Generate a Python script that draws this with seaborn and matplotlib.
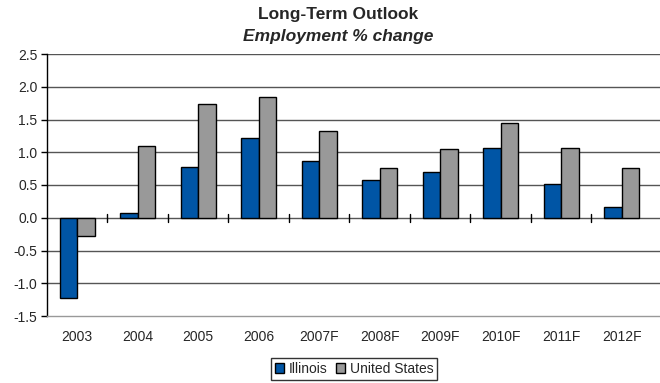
import matplotlib
matplotlib.use("Agg")
import matplotlib.pyplot as plt
import seaborn as sns
import pandas as pd
from matplotlib.patches import Patch

years = ["2003", "2004", "2005", "2006", "2007F", "2008F", "2009F", "2010F", "2011F", "2012F"]
illinois = [-1.23, 0.08, 0.78, 1.21, 0.86, 0.57, 0.70, 1.07, 0.51, 0.17]
united_states = [-0.28, 1.10, 1.73, 1.85, 1.32, 0.76, 1.05, 1.44, 1.07, 0.76]
series_names = ["Illinois", "United States"]
yticks = [-1.5, -1.0, -0.5, 0.0, 0.5, 1.0, 1.5, 2.0, 2.5]

df = pd.DataFrame({
    "year": years * 2,
    "value": illinois + united_states,
    "series": [series_names[0]] * len(years) + [series_names[1]] * len(years),
})

sns.set_style("white")
plt.rcParams["font.family"] = ["Liberation Sans", "DejaVu Sans"]

colors = {"Illinois": "#0055A5", "United States": "#999999"}

fig = plt.figure(figsize=(6.6, 3.83), dpi=100)
ax = fig.add_axes([47 / 660, 1 - 316 / 383, 613 / 660, (316 - 54) / 383])

# horizontal grid drawn under the bars
for y in yticks[1:]:
    ax.axhline(y, color="#555555", lw=1.0, zorder=0)

sns.barplot(data=df, x="year", y="value", hue="series", palette=colors,
            saturation=1, width=0.58, edgecolor="black", linewidth=1.0, ax=ax,
            legend=False, zorder=2)

ax.set_ylim(-1.5, 2.5)
ax.set_xlim(-0.5, len(years) - 0.5 + (660 - 652) / 60.4)
ax.set_yticks(yticks)
ax.set_yticklabels([f"{v:.1f}" for v in yticks])
ax.set_xlabel("")
ax.set_ylabel("")

for side in ["top", "right"]:
    ax.spines[side].set_visible(False)
ax.spines["left"].set_color("black")
ax.spines["left"].set_linewidth(1.0)
ax.spines["bottom"].set_color("#999999")
ax.spines["bottom"].set_linewidth(1.0)

ax.tick_params(axis="y", direction="out", length=4, width=1, color="black",
               labelsize=10, pad=3, left=True)
ax.tick_params(axis="x", length=0, labelsize=10, pad=10)

# category separators on the zero line
for i in range(len(years) - 1):
    ax.plot([i + 0.5, i + 0.5], [-0.06, 0.06], color="black", lw=1.0, zorder=3)

fig.text(338 / 660, 1 - 14 / 383, "Long-Term Outlook", ha="center", va="center",
         fontsize=12.5, fontweight="bold")
fig.text(338 / 660, 1 - 36 / 383, "Employment % change", ha="center", va="center",
         fontsize=12.5, fontweight="bold", fontstyle="italic")

handles = [Patch(facecolor=colors[s], edgecolor="black", lw=1.0) for s in series_names]
leg = fig.legend(handles, series_names, loc="center", ncol=2,
                 bbox_to_anchor=(354 / 660, 1 - 369 / 383), fontsize=10,
                 frameon=True, fancybox=False, edgecolor="black",
                 handlelength=0.7, handleheight=0.7, handletextpad=0.3,
                 columnspacing=0.6, borderpad=0.3)
leg.get_frame().set_linewidth(1.0)

fig.savefig("out.png", dpi=100)
